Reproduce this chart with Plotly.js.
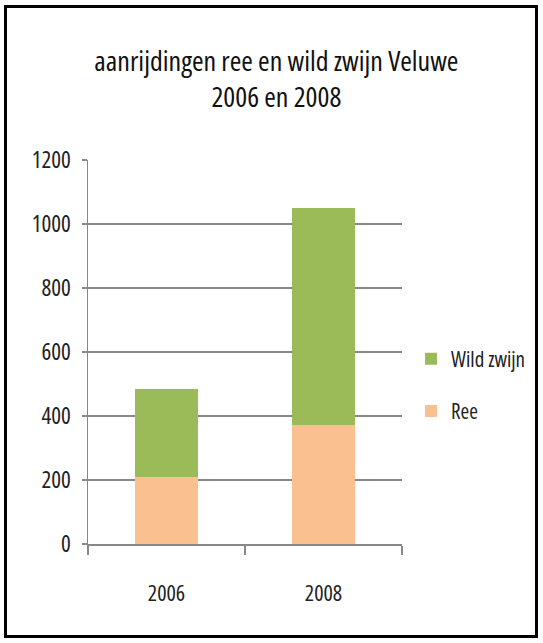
<!DOCTYPE html>
<html>
<head>
<meta charset="utf-8">
<script src="https://cdn.plot.ly/plotly-3.0.1.min.js"></script>
<style>
  html, body { margin: 0; padding: 0; background: #ffffff; }
  #wrap { position: relative; width: 543px; height: 643px; }
  #chart { width: 543px; height: 643px; }
  #chart text { font-stretch: condensed !important; }
  #frame { position: absolute; left: 4px; top: 5px; width: 528px; height: 627px;
           border: 3px solid #000; pointer-events: none; }
</style>
</head>
<body>
<div id="wrap">
  <div id="chart"></div>
  <div id="frame"></div>
</div>
<script>
const years = ['2006', '2008'];
const ree = [209, 372];
const wildZwijn = [275, 677];
const yTicks = [0, 200, 400, 600, 800, 1000, 1200];
const seriesNames = ['Ree', 'Wild zwijn'];
const titleText = 'aanrijdingen ree en wild zwijn Veluwe<br>2006 en 2008';

const FONT = '"Open Sans", Carlito, sans-serif';

const traces = [
  { type: 'bar', name: seriesNames[0], x: years, y: ree, legendrank: 2, legendgroup: 'ree',
    marker: { color: '#FAC090' }, hoverinfo: 'skip' },
  { type: 'bar', name: seriesNames[1], x: years, y: wildZwijn, legendrank: 1, legendgroup: 'wz',
    marker: { color: '#9BBB59' }, hoverinfo: 'skip' }
];

const layout = {
  width: 543, height: 643,
  paper_bgcolor: '#ffffff', plot_bgcolor: '#ffffff',
  margin: { l: 88, r: 141, t: 160, b: 99 },
  barmode: 'stack', bargap: 0.6,
  font: { family: FONT, color: '#1a1a1a' },
  title: { text: titleText, font: { family: FONT, size: 28, color: '#111' },
           xref: 'container', x: 0.509, xanchor: 'center',
           yref: 'container', y: 1 - 71 / 643, yanchor: 'middle' },
  xaxis: { type: 'category', tickson: 'boundaries', ticks: 'outside', ticklen: 9,
           tickcolor: '#888', tickwidth: 1.5, showline: true, linecolor: '#888', linewidth: 1.5,
           showgrid: false, tickfont: { family: FONT, size: 22, color: '#222' },
           ticklabelstandoff: 29 },
  yaxis: { range: [0, 1200], tickvals: yTicks, ticktext: yTicks.map(String),
           ticks: 'outside', ticklen: 5, tickcolor: '#888', tickwidth: 1.5,
           showline: true, linecolor: '#888', linewidth: 1.5,
           showgrid: true, gridcolor: '#888', gridwidth: 1.5, zeroline: false,
           tickfont: { family: FONT, size: 23, color: '#222' }, ticklabelstandoff: 6 },
  legend: { xref: 'container', yref: 'container', x: 0.757, xanchor: 'left',
            y: 1 - 385 / 643, yanchor: 'middle',
            traceorder: 'grouped', tracegroupgap: 22, itemwidth: 30,
            font: { family: FONT, size: 21, color: '#222' }, bgcolor: 'rgba(0,0,0,0)' },
  showlegend: true
};

Plotly.newPlot('chart', traces, layout, { staticPlot: true, displayModeBar: false });
</script>
</body>
</html>
